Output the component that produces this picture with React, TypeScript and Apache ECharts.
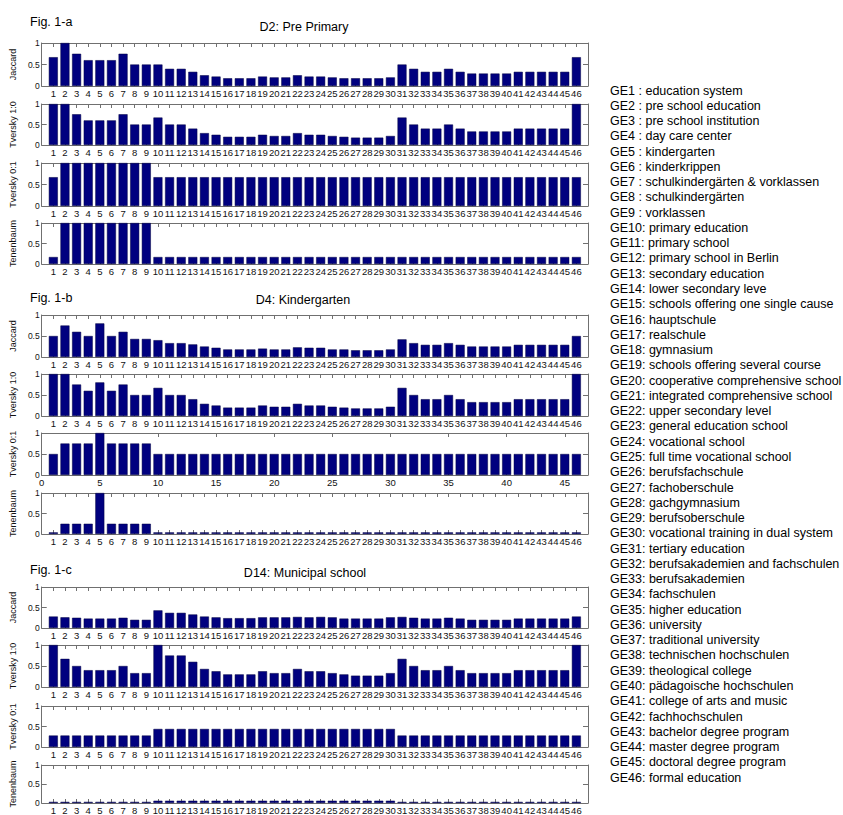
import React, { useEffect, useRef } from "react";
import * as echarts from "echarts";

// ---------- data ----------
const geLabels = [
  "GE1 : education system",
  "GE2 : pre school education",
  "GE3 : pre school institution",
  "GE4 : day care center",
  "GE5 : kindergarten",
  "GE6 : kinderkrippen",
  "GE7 : schulkindergärten & vorklassen",
  "GE8 : schulkindergärten",
  "GE9 : vorklassen",
  "GE10: primary education",
  "GE11: primary school",
  "GE12: primary school in Berlin",
  "GE13: secondary education",
  "GE14: lower secondary leve",
  "GE15: schools offering one single cause",
  "GE16: hauptschule",
  "GE17: realschule",
  "GE18: gymnasium",
  "GE19: schools offering several course",
  "GE20: cooperative comprehensive school",
  "GE21: integrated comprehensive school",
  "GE22: upper secondary level",
  "GE23: general education school",
  "GE24: vocational school",
  "GE25: full time vocational school",
  "GE26: berufsfachschule",
  "GE27: fachoberschule",
  "GE28: gachgymnasium",
  "GE29: berufsoberschule",
  "GE30: vocational training in dual system",
  "GE31: tertiary education",
  "GE32: berufsakademien and fachschulen",
  "GE33: berufsakademien",
  "GE34: fachschulen",
  "GE35: higher education",
  "GE36: university",
  "GE37: traditional university",
  "GE38: technischen hochschulen",
  "GE39: theological college",
  "GE40: pädagoische hochschulen",
  "GE41: college of arts and music",
  "GE42: fachhochschulen",
  "GE43: bachelor degree program",
  "GE44: master degree program",
  "GE45: doctoral degree program",
  "GE46: formal education",
];

const geIndex = [
  1, 2, 3, 4, 5, 6, 7, 8, 9, 10, 11, 12, 13, 14, 15, 16, 17, 18, 19, 20, 21, 22, 23,
  24, 25, 26, 27, 28, 29, 30, 31, 32, 33, 34, 35, 36, 37, 38, 39, 40, 41, 42, 43, 44, 45, 46,
];

const yTicks = ["0", "0.5", "1"];

// Fig. 1-a  D2: Pre Primary
const aJaccard = [
  0.67, 1, 0.75, 0.6, 0.6, 0.6, 0.75, 0.5, 0.5, 0.5,
  0.4, 0.4, 0.33, 0.25, 0.22, 0.18, 0.18, 0.18, 0.22, 0.2,
  0.2, 0.25, 0.22, 0.22, 0.2, 0.18, 0.18, 0.18, 0.18, 0.2,
  0.5, 0.4, 0.33, 0.33, 0.4, 0.33, 0.29, 0.29, 0.29, 0.29,
  0.33, 0.33, 0.33, 0.33, 0.33, 0.67,
];
const aTversky10 = [
  1, 1, 0.75, 0.6, 0.6, 0.6, 0.75, 0.5, 0.5, 0.67,
  0.5, 0.5, 0.4, 0.29, 0.25, 0.2, 0.2, 0.2, 0.25, 0.22,
  0.22, 0.29, 0.25, 0.25, 0.22, 0.2, 0.18, 0.18, 0.18, 0.22,
  0.67, 0.5, 0.4, 0.4, 0.5, 0.4, 0.33, 0.33, 0.33, 0.33,
  0.4, 0.4, 0.4, 0.4, 0.4, 1,
];
const aTversky01 = [
  0.67, 1, 1, 1, 1, 1, 1, 1, 1, 0.67,
  0.67, 0.67, 0.67, 0.67, 0.67, 0.67, 0.67, 0.67, 0.67, 0.67,
  0.67, 0.67, 0.67, 0.67, 0.67, 0.67, 0.67, 0.67, 0.67, 0.67,
  0.67, 0.67, 0.67, 0.67, 0.67, 0.67, 0.67, 0.67, 0.67, 0.67,
  0.67, 0.67, 0.67, 0.67, 0.67, 0.67,
];
const aTenenbaum = [
  0.17, 1, 1, 1, 1, 1, 1, 1, 1, 0.17,
  0.17, 0.17, 0.17, 0.17, 0.17, 0.17, 0.17, 0.17, 0.17, 0.17,
  0.17, 0.17, 0.17, 0.17, 0.17, 0.17, 0.17, 0.17, 0.17, 0.17,
  0.17, 0.17, 0.17, 0.17, 0.17, 0.17, 0.17, 0.17, 0.17, 0.17,
  0.17, 0.17, 0.17, 0.17, 0.17, 0.17,
];

// Fig. 1-b  D4: Kindergarten
const bJaccard = [
  0.5, 0.75, 0.6, 0.5, 0.8, 0.5, 0.6, 0.43, 0.43, 0.4,
  0.33, 0.33, 0.3, 0.25, 0.22, 0.18, 0.18, 0.18, 0.2, 0.18,
  0.18, 0.23, 0.22, 0.22, 0.18, 0.18, 0.16, 0.16, 0.16, 0.18,
  0.42, 0.33, 0.29, 0.29, 0.33, 0.29, 0.25, 0.25, 0.25, 0.25,
  0.29, 0.29, 0.29, 0.29, 0.29, 0.5,
];
const bTversky10 = [
  1, 1, 0.75, 0.6, 0.8, 0.6, 0.75, 0.5, 0.5, 0.67,
  0.5, 0.5, 0.4, 0.29, 0.25, 0.2, 0.2, 0.2, 0.25, 0.22,
  0.22, 0.29, 0.25, 0.25, 0.22, 0.2, 0.18, 0.18, 0.18, 0.22,
  0.67, 0.5, 0.4, 0.4, 0.5, 0.4, 0.33, 0.33, 0.33, 0.33,
  0.4, 0.4, 0.4, 0.4, 0.4, 1,
];
const bTversky01 = [
  0.5, 0.75, 0.75, 0.75, 1, 0.75, 0.75, 0.75, 0.75, 0.5,
  0.5, 0.5, 0.5, 0.5, 0.5, 0.5, 0.5, 0.5, 0.5, 0.5,
  0.5, 0.5, 0.5, 0.5, 0.5, 0.5, 0.5, 0.5, 0.5, 0.5,
  0.5, 0.5, 0.5, 0.5, 0.5, 0.5, 0.5, 0.5, 0.5, 0.5,
  0.5, 0.5, 0.5, 0.5, 0.5, 0.5,
];
const bTenenbaum = [
  0.04, 0.25, 0.25, 0.25, 1, 0.25, 0.25, 0.25, 0.25, 0.04,
  0.04, 0.04, 0.04, 0.04, 0.04, 0.04, 0.04, 0.04, 0.04, 0.04,
  0.04, 0.04, 0.04, 0.04, 0.04, 0.04, 0.04, 0.04, 0.04, 0.04,
  0.04, 0.04, 0.04, 0.04, 0.04, 0.04, 0.04, 0.04, 0.04, 0.04,
  0.04, 0.04, 0.04, 0.04, 0.04, 0.04,
];

// Fig. 1-c  D14: Municipal school
const cJaccard = [
  0.28, 0.26, 0.25, 0.23, 0.23, 0.23, 0.25, 0.2, 0.2, 0.43,
  0.37, 0.37, 0.33, 0.28, 0.26, 0.24, 0.24, 0.24, 0.26, 0.26,
  0.26, 0.27, 0.26, 0.27, 0.26, 0.23, 0.23, 0.23, 0.23, 0.26,
  0.27, 0.25, 0.23, 0.23, 0.25, 0.23, 0.2, 0.2, 0.2, 0.2,
  0.23, 0.23, 0.23, 0.23, 0.23, 0.28,
];
const cTversky10 = [
  1, 0.67, 0.5, 0.4, 0.4, 0.4, 0.5, 0.33, 0.33, 1,
  0.75, 0.75, 0.6, 0.43, 0.375, 0.3, 0.3, 0.3, 0.375, 0.33,
  0.33, 0.43, 0.375, 0.375, 0.33, 0.3, 0.27, 0.27, 0.27, 0.33,
  0.67, 0.5, 0.4, 0.4, 0.5, 0.4, 0.33, 0.33, 0.33, 0.33,
  0.4, 0.4, 0.4, 0.4, 0.4, 1,
];
const cTversky01 = [
  0.28, 0.28, 0.28, 0.28, 0.28, 0.28, 0.28, 0.28, 0.28, 0.44,
  0.44, 0.44, 0.44, 0.44, 0.44, 0.44, 0.44, 0.44, 0.44, 0.44,
  0.44, 0.44, 0.44, 0.44, 0.44, 0.44, 0.44, 0.44, 0.44, 0.44,
  0.28, 0.28, 0.28, 0.28, 0.28, 0.28, 0.28, 0.28, 0.28, 0.28,
  0.28, 0.28, 0.28, 0.28, 0.28, 0.28,
];
const cTenenbaum = [
  0.03, 0.03, 0.03, 0.03, 0.03, 0.03, 0.03, 0.03, 0.03, 0.06,
  0.06, 0.06, 0.06, 0.06, 0.06, 0.06, 0.06, 0.06, 0.06, 0.06,
  0.06, 0.06, 0.06, 0.06, 0.06, 0.06, 0.06, 0.06, 0.06, 0.06,
  0.03, 0.03, 0.03, 0.03, 0.03, 0.03, 0.03, 0.03, 0.03, 0.03,
  0.03, 0.03, 0.03, 0.03, 0.03, 0.03,
];

const figLabels = ["Fig. 1-a", "Fig. 1-b", "Fig. 1-c"];
const figTitles = ["D2: Pre Primary", "D4: Kindergarten", "D14: Municipal school"];

// ---------- layout ----------
const FONT = '"Liberation Sans", Arial, Helvetica, sans-serif';
const BAR_COLOR = "#00007f";
const AXIS_COLOR = "#707070";
const PLOT_LEFT = 38;
const PLOT_WIDTH = 550;

const panels = [
  { name: "Jaccard", top: 43, height: 43, data: aJaccard, step: 1 },
  { name: "Tversky 1:0", top: 104, height: 41, data: aTversky10, step: 1 },
  { name: "Tversky 0:1", top: 163, height: 43, data: aTversky01, step: 1 },
  { name: "Tenenbaum", top: 223, height: 41, data: aTenenbaum, step: 1 },
  { name: "Jaccard", top: 315, height: 42, data: bJaccard, step: 1 },
  { name: "Tversky 1:0", top: 374, height: 42, data: bTversky10, step: 1 },
  { name: "Tversky 0:1", top: 433, height: 42, data: bTversky01, step: 5 },
  { name: "Tenenbaum", top: 493, height: 41, data: bTenenbaum, step: 1 },
  { name: "Jaccard", top: 587, height: 41, data: cJaccard, step: 1 },
  { name: "Tversky 1:0", top: 645, height: 42, data: cTversky10, step: 1 },
  { name: "Tversky 0:1", top: 706, height: 41, data: cTversky01, step: 1 },
  { name: "Tenenbaum", top: 765, height: 41, data: cTenenbaum, step: 1 },
];

const figHeaderPos = [
  { fy: 22, tx: 304, ty: 27 },
  { fy: 298, tx: 303, ty: 300 },
  { fy: 570, tx: 305, ty: 573 },
];

function buildOption() {
  const grid: any[] = [];
  const xAxis: any[] = [];
  const yAxis: any[] = [];
  const series: any[] = [];

  panels.forEach((p, i) => {
    grid.push({ left: PLOT_LEFT, width: PLOT_WIDTH, top: p.top, height: p.height, show: false });

    const axisLine = { show: true, onZero: false, lineStyle: { color: AXIS_COLOR, width: 1 } };
    const xCommon = {
      type: "value",
      gridIndex: i,
      min: 0,
      max: 47,
      interval: p.step,
      axisLine,
      splitLine: { show: false },
      axisTick: { show: true, inside: true, length: 4, lineStyle: { color: AXIS_COLOR } },
    };
    xAxis.push({
      ...xCommon,
      position: "bottom",
      axisLabel: {
        show: true,
        margin: 2,
        fontSize: 9.5,
        fontFamily: FONT,
        color: "#111",
        formatter: (v: number) => {
          if (p.step === 1) return v >= 1 && v <= 46 ? String(geIndex[v - 1]) : "";
          return v <= 45 ? String(v) : "";
        },
      },
    });
    xAxis.push({ ...xCommon, position: "top", axisLabel: { show: false } });

    const yCommon = {
      type: "value",
      gridIndex: i,
      min: 0,
      max: 1,
      interval: 0.5,
      axisLine,
      splitLine: { show: false },
      axisTick: { show: true, inside: true, length: 5, lineStyle: { color: AXIS_COLOR } },
    };
    yAxis.push({
      ...yCommon,
      position: "left",
      name: p.name,
      nameLocation: "middle",
      nameGap: 18,
      nameTextStyle: { fontSize: 9, fontFamily: FONT, color: "#111" },
      axisLabel: {
        show: true,
        margin: 2,
        fontSize: 8.5,
        fontFamily: FONT,
        color: "#111",
        formatter: (v: number) => yTicks[Math.round(v * 2)],
      },
    });
    yAxis.push({ ...yCommon, position: "right", axisLabel: { show: false } });

    series.push({
      type: "bar",
      xAxisIndex: 2 * i,
      yAxisIndex: 2 * i,
      barWidth: 9,
      silent: true,
      itemStyle: { color: BAR_COLOR, borderColor: "#000040", borderWidth: 0.5 },
      data: p.data.map((v, k) => [geIndex[k], v]),
    });
  });

  const graphic: any[] = [];
  figHeaderPos.forEach((h, i) => {
    graphic.push({
      type: "text",
      x: 30,
      y: h.fy,
      style: {
        text: figLabels[i],
        fontSize: 12.5,
        fontFamily: FONT,
        fill: "#000",
        align: "left",
        verticalAlign: "middle",
      },
    });
    graphic.push({
      type: "text",
      x: h.tx,
      y: h.ty,
      style: {
        text: figTitles[i],
        fontSize: 12.5,
        fontFamily: FONT,
        fill: "#000",
        align: "center",
        verticalAlign: "middle",
      },
    });
  });
  geLabels.forEach((t, i) => {
    graphic.push({
      type: "text",
      x: 610,
      y: 90.5 + i * 15.27,
      style: {
        text: t,
        fontSize: 12.5,
        fontFamily: FONT,
        fill: "#000",
        align: "left",
        verticalAlign: "middle",
      },
    });
  });

  return {
    animation: false,
    backgroundColor: "#ffffff",
    grid,
    xAxis,
    yAxis,
    series,
    graphic,
  };
}

export default function App() {
  const ref = useRef<HTMLDivElement>(null);
  useEffect(() => {
    if (!ref.current) return;
    const chart = echarts.init(ref.current, null, { renderer: "svg" });
    chart.setOption(buildOption() as any);
    return () => chart.dispose();
  }, []);
  return (
    <div
      ref={ref}
      style={{ position: "absolute", left: 0, top: 0, width: 843, height: 815, background: "#fff" }}
    />
  );
}
